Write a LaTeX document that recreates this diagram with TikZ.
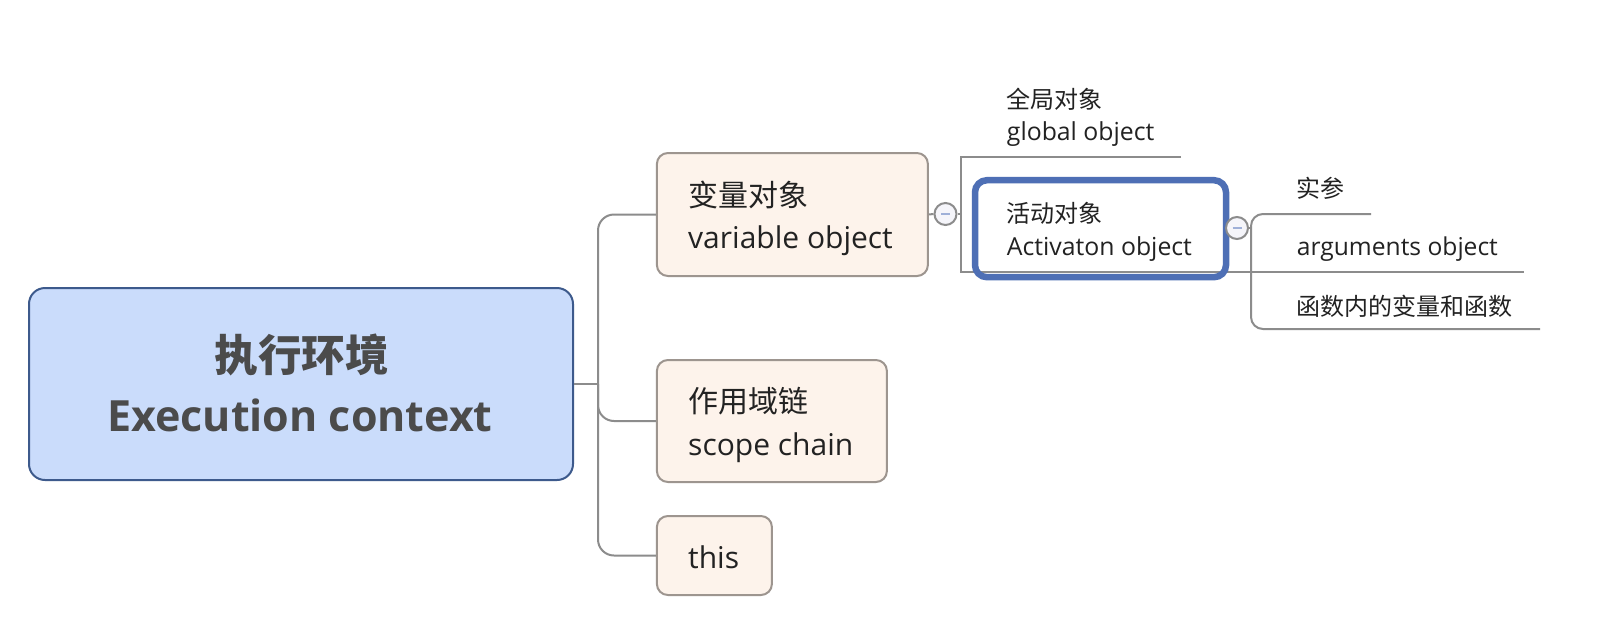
\documentclass[tikz,border=0pt]{standalone}
\usepackage{fontspec}
\setmainfont{Open Sans}
\newfontfamily\cjk{Noto Sans CJK SC}
\definecolor{rootfill}{HTML}{CADCFB}
\definecolor{rootdraw}{HTML}{3D5A8C}
\definecolor{subfill}{HTML}{FDF3EB}
\definecolor{subdraw}{HTML}{9D958F}
\definecolor{connc}{HTML}{8C8C8C}
\definecolor{selblue}{HTML}{4E6FB5}
\definecolor{roottext}{HTML}{4B4B4B}
\definecolor{txt}{HTML}{222222}
\definecolor{minusc}{HTML}{9FB0D8}
\definecolor{foldfill}{HTML}{F5F5FA}
\begin{document}
\begin{tikzpicture}[x=1pt,y=-1pt,
  rootbox/.style={draw=rootdraw,fill=rootfill,line width=2pt,rounded corners=16pt,inner sep=0pt},
  subbox/.style={draw=subdraw,fill=subfill,line width=2pt,rounded corners=11pt,inner sep=0pt},
  selbox/.style={draw=selblue,line width=6.5pt,rounded corners=12pt,inner sep=0pt},
  conn/.style={draw=connc,line width=2pt},
  txtw/.style={inner sep=0pt,anchor=west,text=txt},
  txtb/.style={inner sep=0pt,anchor=base west,text=txt},
  fold/.style={circle,draw=connc,fill=foldfill,line width=2pt,minimum size=22pt,inner sep=0pt,
    path picture={\draw[minusc,line width=2pt]([xshift=-4.5pt]path picture bounding box.center)--([xshift=4.5pt]path picture bounding box.center);}},
]
\path[use as bounding box,fill=white] (0,0) rectangle (1616,616);

% boxes
\node[rootbox,minimum width=544pt,minimum height=192pt] (root) at (301,384) {};
\node[subbox,minimum width=271pt,minimum height=123pt] (vo) at (792.4,214.5) {};
\node[subbox,minimum width=230pt,minimum height=122pt] (sc) at (771.9,421) {};
\node[subbox,minimum width=115pt,minimum height=79pt] (th) at (714.4,555.5) {};

% main connectors
\coordinate (tk) at (598,384);
\draw[conn] (root.east) -- (tk);
\draw[conn,rounded corners=16pt] (vo.west) -| (tk) |- (th.west);
\draw[conn,rounded corners=16pt] (tk) |- (sc.west);

% level 2 connectors
\coordinate (j1) at (960.5,214);
\coordinate (g1) at (960.5,157);
\coordinate (g2) at (1181,157);
\coordinate (a1) at (960.5,272);
\coordinate (a2) at (1524,272);
\draw[conn] (g2) -- (g1) -- (a1) -- (a2);

% level 3 connectors
\coordinate (j2) at (1251,228);
\coordinate (m2) at (1251,272);
\coordinate (s2) at (1371,214);
\coordinate (f2) at (1540,329);
\draw[conn,rounded corners=12pt] (s2) -| (m2) |- (f2);

% selected node
\node[selbox,minimum width=251pt,minimum height=97pt] (ao) at (1100.5,228.7) {};

% fold circles
\node[fold] (c1) at (945.5,214) {};
\node[fold] (c2) at (1237,228) {};
\draw[conn] (vo.east) -- (c1.west);
\draw[conn] (c1.east) -- (j1);
\draw[conn] (c2.east) -- (j2);

% texts
\node[inner sep=0pt,anchor=center,text=roottext,font=\cjk\bfseries\fontsize{43.5}{52}\selectfont] (rt1) at (301.7,355) {执行环境};
\node[inner sep=0pt,anchor=base,text=roottext,font=\bfseries\fontsize{43}{52}\selectfont] (rt2) at (300,431.7) {Execution context};

\node[txtw,font=\cjk\fontsize{30}{36}\selectfont] (vo1) at (688,195) {变量对象};
\node[txtb,font=\fontsize{30}{36}\selectfont] (vo2) at (688,248) {variable object};
\node[txtw,font=\cjk\fontsize{30}{36}\selectfont] (sc1) at (688,401) {作用域链};
\node[txtb,font=\fontsize{30}{36}\selectfont] (sc2) at (688,455) {scope chain};
\node[txtb,font=\fontsize{30}{36}\selectfont] (th1) at (688,568) {this};

\node[txtw,font=\cjk\fontsize{24}{29}\selectfont] (go1) at (1006.7,99) {全局对象};
\node[txtb,font=\fontsize{24.8}{29}\selectfont] (go2) at (1006.7,140.7) {global\ object};
\node[txtw,font=\cjk\fontsize{24}{29}\selectfont] (ao1) at (1006.7,213) {活动对象};
\node[txtb,font=\fontsize{24.8}{29}\selectfont] (ao2) at (1006.7,255) {Activaton object};

\node[txtw,font=\cjk\fontsize{24}{29}\selectfont] (sp1) at (1296.7,188) {实参};
\node[txtb,font=\fontsize{24.6}{29}\selectfont] (ar1) at (1296.7,255) {arguments object};
\node[txtw,font=\cjk\fontsize{24}{29}\selectfont] (fn1) at (1296.7,306) {函数内的变量和函数};
\end{tikzpicture}
\end{document}
